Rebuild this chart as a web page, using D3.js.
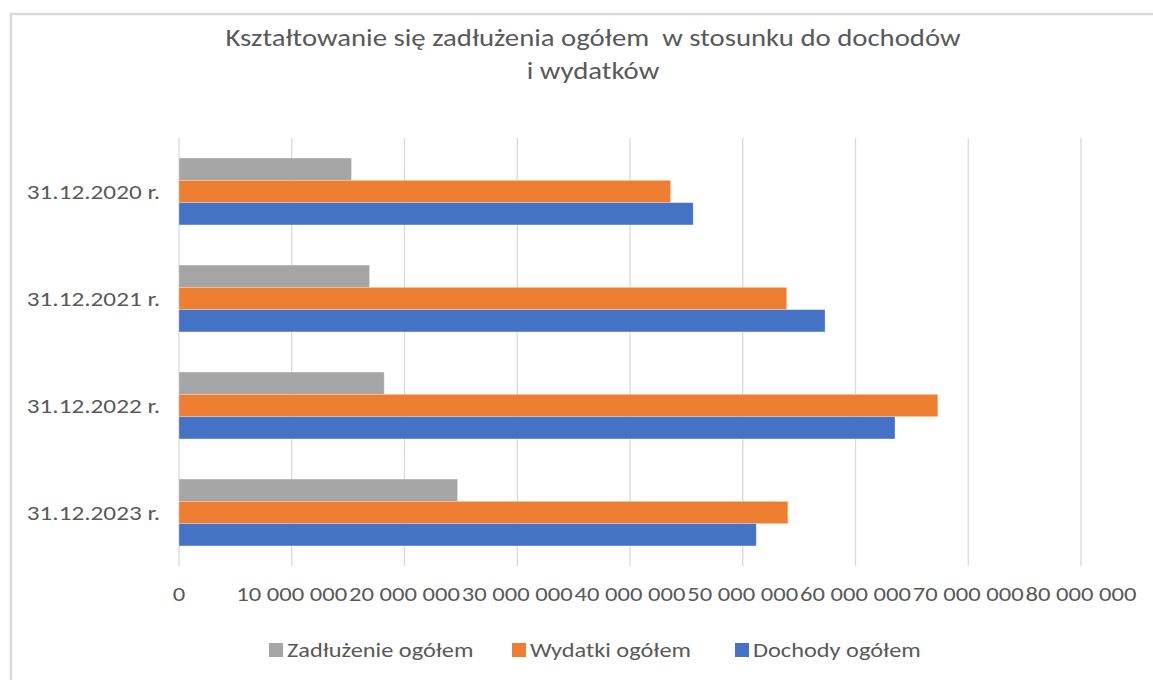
<!DOCTYPE html>
<html>
<head>
<meta charset="utf-8">
<script src="https://cdn.jsdelivr.net/npm/d3@7"></script>
<style>
  html, body { margin: 0; padding: 0; background: #fff; }
  svg { display: block; font-family: Carlito, Calibri, Lato, sans-serif; }
</style>
</head>
<body>
<div id="chart"></div>
<script>
'use strict';

const categories = ['31.12.2020 r.', '31.12.2021 r.', '31.12.2022 r.', '31.12.2023 r.'];
const seriesNames = ['Zadłużenie ogółem', 'Wydatki ogółem', 'Dochody ogółem'];
const zadluzenie = [15300000, 16900000, 18200000, 24700000];
const wydatki = [43600000, 53900000, 67300000, 54000000];
const dochody = [45600000, 57300000, 63500000, 51200000];
const xTicks = [0, 10000000, 20000000, 30000000, 40000000, 50000000, 60000000, 70000000, 80000000];
const titleLines = ['Kształtowanie się zadłużenia ogółem  w stosunku do dochodów', 'i wydatków'];

const colors = ['#A5A5A5', '#ED7D31', '#4472C4'];
const values = [zadluzenie, wydatki, dochody];

const W = 1153, H = 680;
const plot = { left: 179, right: 1081, top: 138, bottom: 566 };

// the source text is a bit wider than Lato, stretch glyphs horizontally
const widen = (sel, k) => {
  sel.each(function () {
    const len = this.getComputedTextLength();
    d3.select(this)
      .attr('textLength', len * k)
      .attr('lengthAdjust', 'spacingAndGlyphs');
  });
};

const $svg = d3.select('#chart').append('svg')
  .attr('width', W)
  .attr('height', H);

// chart frame (only top and left edges are visible in the crop)
$svg.append('path')
  .attr('d', 'M11,' + H + ' L11,14 L' + W + ',14')
  .attr('fill', 'none')
  .attr('stroke', '#D9D9D9')
  .attr('stroke-width', 2.5);

const x = d3.scaleLinear().domain([0, 80000000]).range([plot.left, plot.right]);
const y = d3.scaleBand().domain(categories).range([plot.top, plot.bottom]).padding(0);
const ySub = d3.scaleBand().domain(seriesNames).range([0, y.bandwidth()])
  .paddingInner(0).paddingOuter(0.9);

// gridlines
$svg.append('g').selectAll('.grid')
  .data(xTicks)
  .enter()
  .append('line')
  .attr('class', 'grid')
  .attr('x1', (d) => x(d))
  .attr('x2', (d) => x(d))
  .attr('y1', plot.top)
  .attr('y2', plot.bottom)
  .attr('stroke', '#D9D9D9')
  .attr('stroke-width', 1.3);

// bars
const rows = [];
categories.forEach((c, i) => {
  seriesNames.forEach((s, j) => {
    rows.push({ cat: c, series: s, value: values[j][i], color: colors[j] });
  });
});

$svg.append('g').selectAll('.bar')
  .data(rows)
  .enter()
  .append('rect')
  .attr('class', 'bar')
  .attr('x', x(0))
  .attr('y', (d) => y(d.cat) + ySub(d.series))
  .attr('width', (d) => x(d.value) - x(0))
  .attr('height', ySub.bandwidth())
  .attr('fill', (d) => d.color)
  .attr('stroke', '#fff')
  .attr('stroke-opacity', 0.35)
  .attr('stroke-width', 0.8);

// x tick labels
$svg.append('g').selectAll('.xlabel')
  .data(xTicks)
  .enter()
  .append('text')
  .attr('class', 'xlabel')
  .attr('x', (d) => x(d))
  .attr('y', 601)
  .attr('text-anchor', 'middle')
  .attr('font-size', 20.5)
  .attr('fill', '#595959')
  .text((d) => d3.format(',')(d).replace(/,/g, ' '))
  .call(widen, 1.2);

// category labels
$svg.append('g').selectAll('.ylabel')
  .data(categories)
  .enter()
  .append('text')
  .attr('class', 'ylabel')
  .attr('x', 160)
  .attr('y', (d) => y(d) + y.bandwidth() / 2)
  .attr('dy', '0.35em')
  .attr('text-anchor', 'end')
  .attr('font-size', 21)
  .attr('fill', '#595959')
  .text((d) => d)
  .call(widen, 1.2);

// title
$svg.append('g').selectAll('.title')
  .data(titleLines)
  .enter()
  .append('text')
  .attr('class', 'title')
  .attr('x', 593)
  .attr('y', (d, i) => 46 + i * 33)
  .attr('text-anchor', 'middle')
  .attr('font-size', 25)
  .attr('fill', '#595959')
  .style('white-space', 'pre')
  .text((d) => d)
  .call(widen, 1.15);

// legend
const legendX = [269, 512, 735];
const $legend = $svg.append('g').selectAll('.legend')
  .data(seriesNames)
  .enter()
  .append('g')
  .attr('class', 'legend')
  .attr('transform', (d, i) => 'translate(' + legendX[i] + ',643)');

$legend.append('rect')
  .attr('width', 14)
  .attr('height', 14)
  .attr('fill', (d, i) => colors[i]);

$legend.append('text')
  .attr('x', 18)
  .attr('y', 14)
  .attr('font-size', 21)
  .attr('fill', '#595959')
  .text((d) => d)
  .call(widen, 1.16);
</script>
</body>
</html>
